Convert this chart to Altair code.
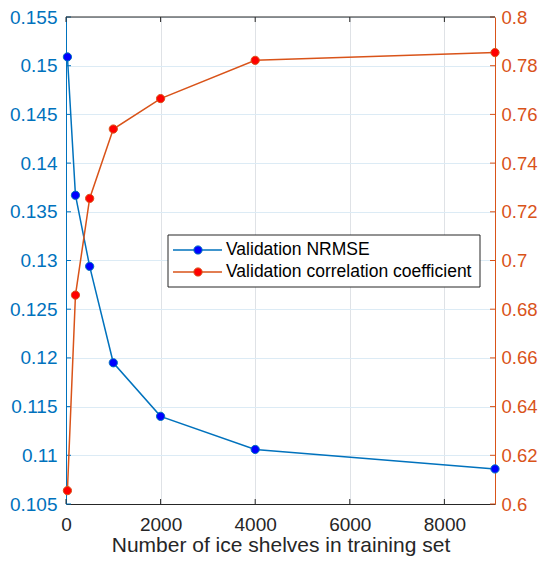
import altair as alt
import pandas as pd

# ---- data ----
shelves = [30, 200, 500, 1000, 2000, 4000, 9070]
nrmse = [0.1509, 0.1367, 0.1294, 0.1195, 0.1140, 0.1106, 0.1086]
corr = [0.6055, 0.6858, 0.7255, 0.7540, 0.7665, 0.7822, 0.7854]

x_ticks = [0, 2000, 4000, 6000, 8000]
left_ticks = [0.105, 0.11, 0.115, 0.12, 0.125, 0.13, 0.135, 0.14, 0.145, 0.15, 0.155]
right_ticks = [0.6, 0.62, 0.64, 0.66, 0.68, 0.7, 0.72, 0.74, 0.76, 0.78, 0.8]
series_names = ["Validation NRMSE", "Validation correlation coefficient"]
x_title = "Number of ice shelves in training set"

# ---- styling ----
W, H = 429, 487
FONT = "Liberation Sans"
BLUE, BLUE_FILL = "#0072BD", "#0000FF"
ORANGE, RED_FILL = "#D95319", "#FF0000"
DARK = "#262626"
TICK = 5
MS = 68

x_scale = alt.Scale(domain=[0, 9070], nice=False, zero=False)
left_scale = alt.Scale(domain=[0.105, 0.155], nice=False, zero=False)
right_scale = alt.Scale(domain=[0.6, 0.8], nice=False, zero=False)

x_axis = alt.Axis(values=x_ticks, format="d", title=x_title, grid=True,
                  gridColor="#DFE2E6", gridWidth=1, ticks=False,
                  domainColor=DARK, labelColor=DARK, labelFontSize=19,
                  labelPadding=11, titleFontSize=21, titleColor=DARK,
                  titleFontWeight="normal", titlePadding=0, labelFlush=False,
                  labelOverlap=False, labelFont=FONT, titleFont=FONT)
left_axis = alt.Axis(values=left_ticks, format=".3~f", title=None, grid=True,
                     gridColor="#DCEBF5", gridWidth=1, ticks=False,
                     domainColor=BLUE, labelColor=BLUE, labelFontSize=19,
                     labelPadding=9, labelFlush=False, labelOverlap=False,
                     orient="left", labelFont=FONT)
right_axis = alt.Axis(values=right_ticks, format=".2~f", title=None, grid=False,
                      ticks=False, domainColor=ORANGE, labelColor=ORANGE,
                      labelFontSize=18.5, labelPadding=6, labelFlush=False,
                      labelOverlap=False, orient="right", labelFont=FONT)

X = alt.X("x:Q", scale=x_scale, axis=x_axis)
YL = alt.Y("y:Q", scale=left_scale, axis=left_axis)
YR = alt.Y("y:Q", scale=right_scale, axis=right_axis)

df_left = pd.DataFrame({"x": shelves, "y": nrmse})
df_right = pd.DataFrame({"x": shelves, "y": corr})

left_line = alt.Chart(df_left).mark_line(color=BLUE, strokeWidth=1.5).encode(x=X, y=YL)
left_pts = alt.Chart(df_left).mark_circle(size=MS, fill=BLUE_FILL, stroke=BLUE,
                                          strokeWidth=1, opacity=1).encode(x=X, y=YL)
left_tk = alt.Chart(pd.DataFrame({"y": left_ticks})).mark_rule(color=BLUE).encode(
    y=YL, x=alt.value(0), x2=alt.value(TICK))
left_layer = alt.layer(left_tk, left_line, left_pts)

right_line = alt.Chart(df_right).mark_line(color=ORANGE, strokeWidth=1.5).encode(x=X, y=YR)
right_pts = alt.Chart(df_right).mark_circle(size=MS, fill=RED_FILL, stroke=ORANGE,
                                            strokeWidth=1, opacity=1).encode(x=X, y=YR)
right_tk = alt.Chart(pd.DataFrame({"y": right_ticks})).mark_rule(color=ORANGE).encode(
    y=YR, x=alt.value(W - TICK), x2=alt.value(W))
right_layer = alt.layer(right_tk, right_line, right_pts)

xdf = pd.DataFrame({"x": x_ticks})
top_tk = alt.Chart(xdf).mark_rule(color=DARK).encode(x=X, y=alt.value(0), y2=alt.value(TICK))
bot_tk = alt.Chart(xdf).mark_rule(color=DARK).encode(x=X, y=alt.value(H - TICK), y2=alt.value(H))
border = alt.Chart(pd.DataFrame({"a": [0]})).mark_rule(color=DARK).encode(
    x=alt.value(0), x2=alt.value(W), y=alt.value(0))

# ---- legend box ----
box = alt.Chart(pd.DataFrame({"a": [0]})).mark_rect(fill="white", stroke=DARK, strokeWidth=1).encode(
    x=alt.value(102), x2=alt.value(414), y=alt.value(218), y2=alt.value(270))
legend_parts = [box]
for name, lc, fc, yrow in [(series_names[0], BLUE, BLUE_FILL, 233),
                           (series_names[1], ORANGE, RED_FILL, 255)]:
    ldf = pd.DataFrame({"label": [name]})
    legend_parts.append(alt.Chart(ldf).mark_rule(color=lc, strokeWidth=1.5).encode(
        x=alt.value(107), x2=alt.value(156), y=alt.value(yrow)))
    legend_parts.append(alt.Chart(ldf).mark_circle(size=MS, fill=fc, stroke=lc, strokeWidth=1,
                                                   opacity=1).encode(
        x=alt.value(132), y=alt.value(yrow)))
    legend_parts.append(alt.Chart(ldf).mark_text(align="left", baseline="middle", fontSize=17.5,
                                                 font=FONT, color="#000000").encode(
        x=alt.value(160), y=alt.value(yrow), text="label:N"))
legend_layer = alt.layer(*legend_parts)

chart = alt.layer(left_layer, right_layer, top_tk, bot_tk, border, legend_layer).resolve_scale(
    y="independent"
).properties(
    width=W, height=H,
    autosize=alt.AutoSizeParams(type="none"),
    padding={"left": 58, "top": 9, "right": 44, "bottom": 54},
).configure_view(stroke=None).configure(font=FONT)

chart.save("out.html", embed_options={"renderer": "svg", "actions": False})
